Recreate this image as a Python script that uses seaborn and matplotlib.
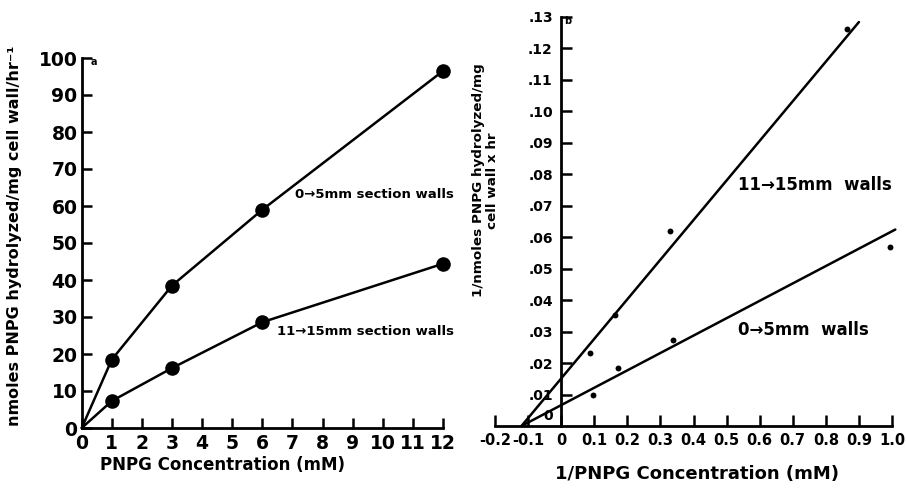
import matplotlib
matplotlib.use("Agg")
import matplotlib.pyplot as plt
import matplotlib.transforms as mtransforms
import numpy as np
import pandas as pd
import seaborn as sns

# ---------------- data ----------------
# Panel a: rate vs PNPG concentration
conc_a = [0, 1, 3, 6, 12]
rate_0_5 = [0, 18.5, 38.5, 59, 96.5]
rate_11_15 = [0, 7.3, 16.2, 28.6, 44.4]
xticks_a = list(range(0, 13))
yticks_a = list(range(0, 101, 10))

# Panel b: Lineweaver-Burk plot (points + fitted lines)
inv_conc_11_15 = [0.086, 0.163, 0.330, 0.864]
inv_rate_11_15 = [0.0231, 0.0352, 0.0619, 0.1262]
inv_conc_0_5 = [0.096, 0.172, 0.338, 0.995]
inv_rate_0_5 = [0.0098, 0.0183, 0.0273, 0.0569]
fit_x_11_15 = [-0.12, 0.90]
fit_y_11_15 = [0.0, 0.1283]
fit_x_0_5 = [-0.12, 1.01]
fit_y_0_5 = [0.0, 0.0624]
xticks_b = [-0.2, -0.1, 0.0, 0.1, 0.2, 0.3, 0.4, 0.5, 0.6, 0.7, 0.8, 0.9, 1.0]
xticklabels_b = ["-0.2", "-0.1", "0", "0.1", "0.2", "0.3", "0.4", "0.5",
                 "0.6", "0.7", "0.8", "0.9", "1.0"]
yticks_b = [0.0, 0.01, 0.02, 0.03, 0.04, 0.05, 0.06, 0.07, 0.08, 0.09,
            0.10, 0.11, 0.12, 0.13]
yticklabels_b = ["0", ".01", ".02", ".03", ".04", ".05", ".06", ".07", ".08",
                 ".09", ".10", ".11", ".12", ".13"]

# ---------------- style ----------------
sns.set_style("ticks")
plt.rcParams["font.family"] = ["DejaVu Sans"]
plt.rcParams["font.weight"] = "bold"
plt.rcParams["axes.labelweight"] = "bold"

fig = plt.figure(figsize=(9.06, 4.88), dpi=100)
W, H = 906, 488
ax1 = fig.add_axes([81.7 / W, (H - 428) / H, (443 - 81.7) / W, (428 - 58) / H])
ax2 = fig.add_axes([495 / W, (H - 426) / H, (892 - 495) / W, (426 - 16.7) / H])

black = "black"

# ---------- panel a ----------
df_a = pd.DataFrame({
    "conc": conc_a * 2,
    "rate": rate_0_5 + rate_11_15,
    "series": ["0-5"] * len(conc_a) + ["11-15"] * len(conc_a),
})
sns.lineplot(data=df_a, x="conc", y="rate", units="series", estimator=None,
             color=black, lw=1.8, ax=ax1, legend=False)
sns.scatterplot(data=df_a[df_a["conc"] > 0], x="conc", y="rate", color=black,
                s=110, edgecolor=black, linewidth=0, ax=ax1, legend=False,
                clip_on=False, zorder=5)
for l in ax1.lines:
    l.set_clip_on(False)

ax1.set_xlim(0, 12)
ax1.set_ylim(0, 100)
ax1.set_xticks(xticks_a)
ax1.set_yticks(yticks_a)
ax1.set_xticklabels([str(v) for v in xticks_a], fontsize=13.5)
ax1.set_yticklabels([str(v) for v in yticks_a], fontsize=13.5)
ax1.tick_params(direction="in", length=7, width=1.8, pad=3, color=black,
                labelcolor=black)
ax1.tick_params(axis="x", pad=4)
for s in ["top", "right"]:
    ax1.spines[s].set_visible(False)
for s in ["left", "bottom"]:
    ax1.spines[s].set_linewidth(2)
    ax1.spines[s].set_color(black)

ax1.set_xlabel("PNPG Concentration (mM)", fontsize=12, color=black)
ax1.xaxis.set_label_coords(0.389, -0.075)
ax1.set_ylabel("nmoles PNPG hydrolyzed/mg cell wall/hr\u207b\u00b9",
               fontsize=11.5, color=black)
ax1.yaxis.set_label_coords(-0.165, 0.52)

ax1.text(7.1, 63, "0\u21925mm section walls", fontsize=9.5, color=black,
         va="center", ha="left")
ax1.text(6.5, 26, "11\u219215mm section walls", fontsize=9.5, color=black,
         va="center", ha="left")
ax1.text(0.3, 99, "a", fontsize=7, color=black, va="center", ha="left")

# ---------- panel b ----------
df_fit = pd.DataFrame({
    "x": fit_x_11_15 + fit_x_0_5,
    "y": fit_y_11_15 + fit_y_0_5,
    "series": ["11-15"] * 2 + ["0-5"] * 2,
})
df_pts = pd.DataFrame({
    "x": inv_conc_11_15 + inv_conc_0_5,
    "y": inv_rate_11_15 + inv_rate_0_5,
})
sns.lineplot(data=df_fit, x="x", y="y", units="series", estimator=None,
             color=black, lw=1.8, ax=ax2, legend=False)
for l in ax2.lines:
    l.set_clip_on(False)
sns.scatterplot(data=df_pts, x="x", y="y", color=black, s=18, linewidth=0,
                ax=ax2, legend=False, clip_on=False, zorder=5)

ax2.set_xlim(-0.2, 1.0)
ax2.set_ylim(0, 0.13)
ax2.set_xticks(xticks_b)
ax2.set_xticklabels(xticklabels_b, fontsize=10.5)
ax2.set_yticks(yticks_b)
ax2.set_yticklabels(yticklabels_b, fontsize=11)
ax2.tick_params(direction="in", length=8, width=1.8, pad=6, color=black,
                labelcolor=black)
ax2.tick_params(axis="x", pad=5)
for s in ["top", "right"]:
    ax2.spines[s].set_visible(False)
for s in ["left", "bottom"]:
    ax2.spines[s].set_linewidth(2)
    ax2.spines[s].set_color(black)
ax2.spines["left"].set_position(("data", 0))
# the "0" y-label sits just above the x axis, hide its tick
ylabs = ax2.get_yticklabels()
ylabs[0].set_transform(ylabs[0].get_transform() +
                       mtransforms.ScaledTranslation(0, 12 / 100, fig.dpi_scale_trans))
ax2.yaxis.get_major_ticks()[0].tick1line.set_visible(False)

ax2.set_xlabel("1/PNPG Concentration (mM)", fontsize=13, color=black)
ax2.xaxis.set_label_coords(0.509, -0.095)
ax2.set_ylabel("1/nmoles PNPG hydrolyzed/mg\ncell wall x hr", fontsize=9.7,
               color=black, linespacing=1.1)
ax2.yaxis.set_label_coords(0.01, 0.60)

ax2.text(0.534, 0.0765, "11\u219215mm  walls", fontsize=12, color=black,
         va="center", ha="left")
ax2.text(0.534, 0.0305, "0\u21925mm  walls", fontsize=12, color=black,
         va="center", ha="left")
ax2.text(0.01, 0.1285, "b", fontsize=7, color=black, va="center", ha="left")

fig.savefig("out.png", dpi=100, facecolor="white")
